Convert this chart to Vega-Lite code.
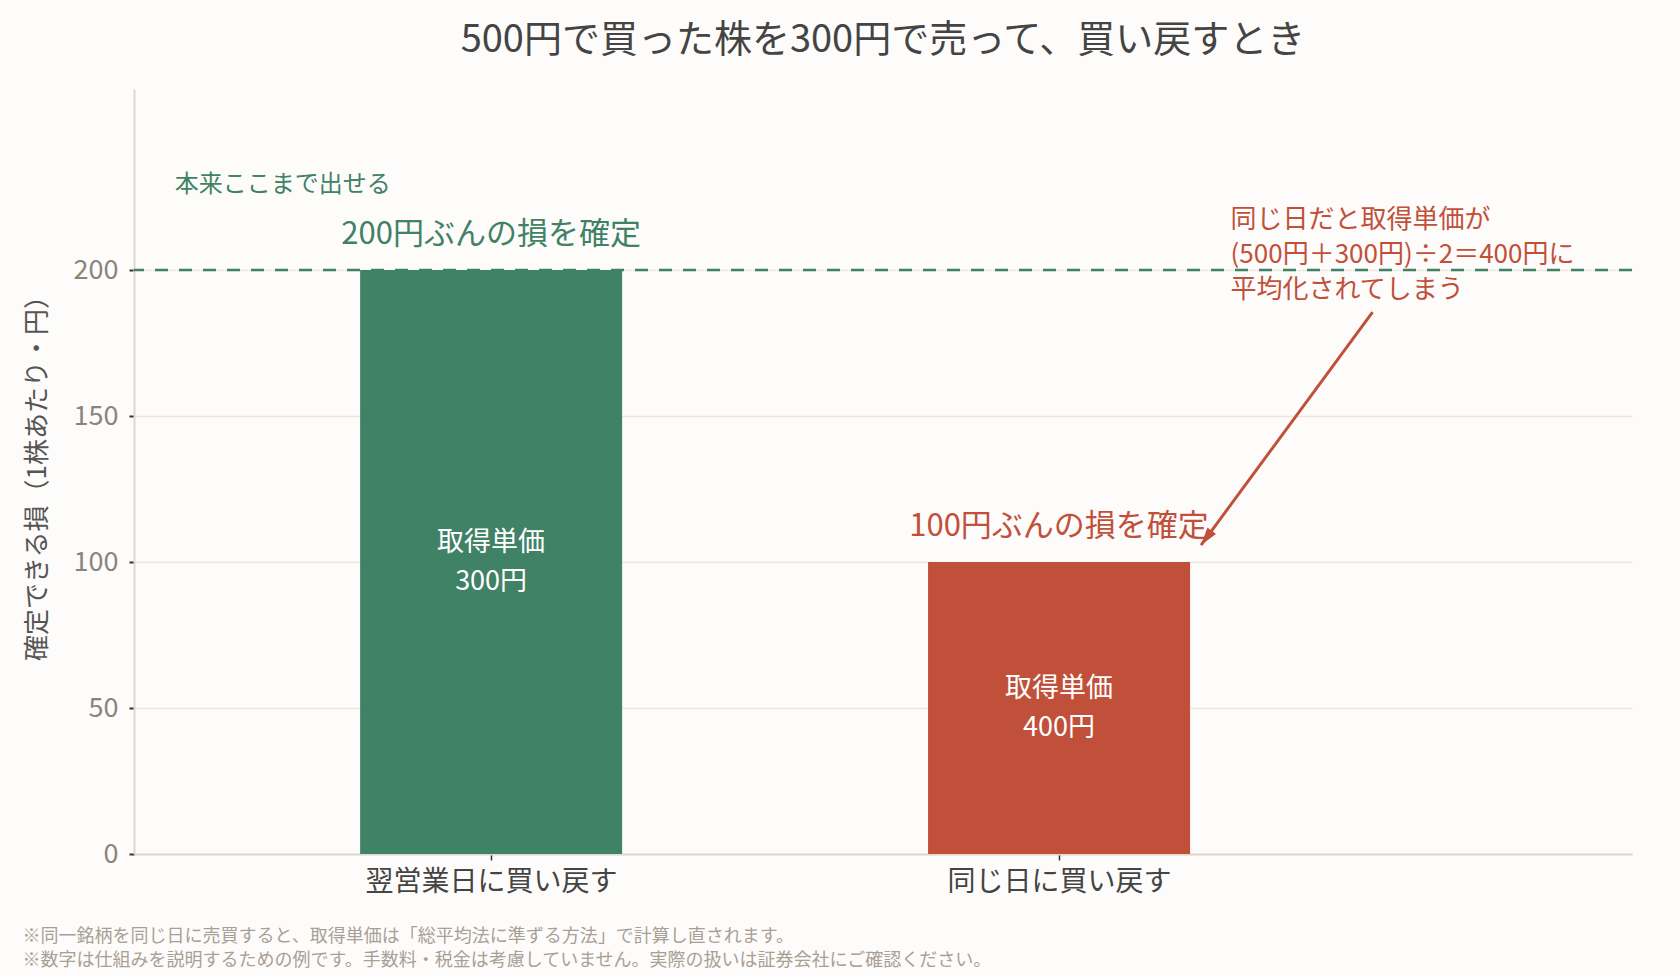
{
  "$schema": "https://vega.github.io/schema/vega-lite/v6.json",
  "description": "Loss you can lock in when you sell a 500-yen stock at 300 yen and buy it back.",
  "background": "#fdfcfa",
  "autosize": "none",
  "padding": {"left": 134, "top": 89, "right": 48, "bottom": 121},
  "width": 1498,
  "height": 765,
  "title": {
    "text": "500円で買った株を300円で売って、買い戻すとき",
    "fontSize": 38,
    "fontWeight": "normal",
    "color": "#444444",
    "anchor": "middle",
    "offset": 29
  },
  "config": {
    "font": "Noto Sans CJK JP",
    "view": {"stroke": null},
    "text": {"font": "Noto Sans CJK JP"}
  },
  "datasets": {
    "bars": [
      {"case": "翌営業日に買い戻す", "pos": 0, "loss": 200, "inside": "取得単価\n300円", "result": "200円ぶんの損を確定"},
      {"case": "同じ日に買い戻す", "pos": 1, "loss": 100, "inside": "取得単価\n400円", "result": "100円ぶんの損を確定"}
    ],
    "limit": [
      {"loss": 200, "note": "本来ここまで出せる", "pos": -0.557, "at": 229}
    ],
    "callout": [
      {"pos": 1.302, "at": 217, "note": "同じ日だと取得単価が\n(500円＋300円)÷2＝400円に\n平均化されてしまう",
       "from_pos": 1.552, "from_at": 185.6, "to_pos": 1.25, "to_at": 105.8}
    ]
  },
  "encoding": {
    "x": {
      "field": "pos",
      "type": "quantitative",
      "scale": {"domain": [-0.62, 2.0], "nice": false, "zero": false},
      "axis": {
        "values": [0, 1],
        "labelExpr": "datum.value == 0 ? '翌営業日に買い戻す' : '同じ日に買い戻す'",
        "labelFontSize": 28,
        "labelColor": "#444444",
        "labelPadding": 8,
        "labelLimit": 0,
        "tickColor": "#333333",
        "tickSize": 6,
        "tickWidth": 1.5,
        "domainColor": "#e0d8cc",
        "domainWidth": 2,
        "grid": false,
        "title": [
          "※同一銘柄を同じ日に売買すると、取得単価は「総平均法に準ずる方法」で計算し直されます。",
          "※数字は仕組みを説明するための例です。手数料・税金は考慮していません。実際の扱いは証券会社にご確認ください。"
        ],
        "titleFontSize": 18,
        "titleFontWeight": "normal",
        "titleColor": "#a8a097",
        "titleAnchor": "start",
        "titleAlign": "left",
        "titleBaseline": "top",
        "titleLineHeight": 24,
        "titleLimit": 0,
        "titleX": -112,
        "titleY": 73
      }
    },
    "y": {
      "field": "loss",
      "type": "quantitative",
      "scale": {"domain": [0, 262], "nice": false},
      "axis": {
        "title": "確定できる損（1株あたり・円）",
        "titleFontSize": 26,
        "titleFontWeight": "normal",
        "titleColor": "#555555",
        "titlePadding": 23,
        "values": [0, 50, 100, 150, 200],
        "labelFontSize": 27,
        "labelColor": "#8a847a",
        "labelPadding": 11,
        "tickColor": "#333333",
        "tickSize": 5,
        "tickWidth": 2,
        "domainColor": "#e0d8cc",
        "domainWidth": 2,
        "grid": true,
        "gridColor": "#ece7de",
        "gridWidth": 1.5
      }
    }
  },
  "layer": [
    {
      "data": {"name": "bars"},
      "mark": {"type": "bar", "size": 262},
      "encoding": {
        "color": {
          "field": "case",
          "type": "nominal",
          "scale": {"domain": ["翌営業日に買い戻す", "同じ日に買い戻す"], "range": ["#3f8266", "#c1503a"]},
          "legend": null
        }
      }
    },
    {
      "data": {"name": "limit"},
      "mark": {"type": "rule", "color": "#3f8266", "strokeWidth": 2.5, "strokeDash": [13, 11]},
      "encoding": {"x": null}
    },
    {
      "data": {"name": "limit"},
      "mark": {"type": "text", "align": "left", "baseline": "middle", "fontSize": 24, "color": "#3f8266"},
      "encoding": {
        "x": {"field": "pos", "type": "quantitative"},
        "y": {"field": "at", "type": "quantitative"},
        "text": {"field": "note"}
      }
    },
    {
      "data": {"name": "bars"},
      "mark": {"type": "text", "align": "center", "baseline": "middle", "dy": -35, "fontSize": 31},
      "encoding": {
        "text": {"field": "result"},
        "color": {"field": "case", "type": "nominal", "legend": null}
      }
    },
    {
      "data": {"name": "bars"},
      "transform": [{"calculate": "datum.loss / 2", "as": "mid"}],
      "mark": {"type": "text", "align": "center", "baseline": "middle", "dy": -19, "fontSize": 27, "color": "#ffffff", "lineBreak": "\n", "lineHeight": 39},
      "encoding": {
        "y": {"field": "mid", "type": "quantitative"},
        "text": {"field": "inside"}
      }
    },
    {
      "data": {"name": "callout"},
      "mark": {"type": "rule", "color": "#c1503a", "strokeWidth": 3},
      "encoding": {
        "x": {"field": "from_pos", "type": "quantitative"},
        "y": {"field": "from_at", "type": "quantitative"},
        "x2": {"field": "to_pos"},
        "y2": {"field": "to_at"}
      }
    },
    {
      "data": {"name": "callout"},
      "mark": {"type": "point", "shape": "M0,0L0.6,2L-0.6,2Z", "size": 320, "filled": true, "color": "#c1503a", "opacity": 1, "angle": 216.6},
      "encoding": {
        "x": {"field": "to_pos", "type": "quantitative"},
        "y": {"field": "to_at", "type": "quantitative"}
      }
    },
    {
      "data": {"name": "callout"},
      "mark": {"type": "text", "align": "left", "baseline": "middle", "fontSize": 26, "color": "#c1503a", "lineBreak": "\n", "lineHeight": 35},
      "encoding": {
        "x": {"field": "pos", "type": "quantitative"},
        "y": {"field": "at", "type": "quantitative"},
        "text": {"field": "note"}
      }
    }
  ]
}
